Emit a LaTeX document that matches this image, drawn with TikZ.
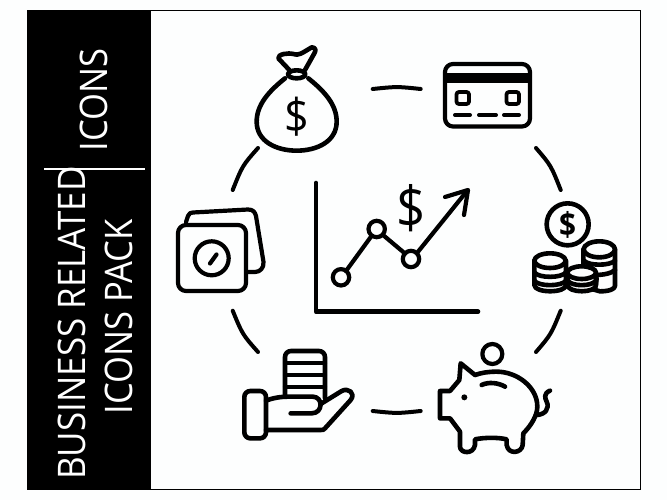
\documentclass[tikz,border=0pt]{standalone}
\usepackage{fontspec}
\setmainfont{Open Sans}
\definecolor{paper}{HTML}{FDFEFE}
\tikzset{
  ink/.style={draw=black,line width=#1,line cap=round,line join=round},
  ink/.default=4.6pt,
  arcdash/.style={draw=black,line width=4pt,line cap=round},
  sidetext/.style={text=white,rotate=90,inner sep=0pt,anchor=center,font=\fontsize{38}{38}\selectfont},
  sign/.style={text=black,inner sep=0pt,anchor=center},
  zoomed/.style={shift={(#1)},x=0.33333pt,y=-0.33333pt}
}
\begin{document}
\begin{tikzpicture}[x=1pt,y=-1pt]
\useasboundingbox (0,0) rectangle (667,500);
\fill[paper] (0,0) rectangle (667,500);
\draw[black,line width=1pt,fill=paper] (27,11) rectangle (640,489);
\fill[black] (27,11) rectangle (151,489);
% sidebar
\node[sidetext] (t1) at (94,100) {\scalebox{0.91}[1]{ICONS}};
\node[sidetext] (t2) at (71.5,323) {\scalebox{0.92}[1]{BUSINESS RELATED}};
\node[sidetext] (t3) at (118.5,317) {\scalebox{0.91}[1]{ICONS PACK}};
\fill[white] (44,168.2) rectangle (145,169.8);
% ring dashes
\draw[arcdash] (372.7,89) .. controls (397,86.5) .. (420.7,89);
\draw[arcdash] (536,148) .. controls (551,165.5) .. (560.7,190);
\draw[arcdash] (560.7,310.7) .. controls (551,334.5) .. (536,352);
\draw[arcdash] (420.7,411) .. controls (397,413.5) .. (372.7,411);
\draw[arcdash] (258,352) .. controls (242.5,334.5) .. (232.7,310.7);
\draw[arcdash] (232.7,190) .. controls (242.5,165.5) .. (258,148);
% money bag
\begin{scope}[zoomed={230,30}]
\draw[ink] (165,145) .. controls (115,185) and (80,225) .. (80,275)
   .. controls (80,335) and (140,362) .. (200,362)
   .. controls (260,362) and (320,335) .. (320,275)
   .. controls (320,225) and (285,185) .. (235,145);
\draw[ink] (200,133) ellipse[x radius=26,y radius=12];
\draw[ink] (178,120) -- (145,85) .. controls (143,72) and (175,68) .. (190,72)
   .. controls (205,78) and (215,70) .. (245,52) .. controls (258,52) and (258,62) .. (253,70) -- (225,120);
\end{scope}
\node[sign,font=\fontsize{48}{48}\selectfont] (d1) at (296.5,116.5) {\scalebox{0.9}[1]{\$}};
% credit card
\draw[ink=4.2pt,rounded corners=8pt] (445,64) rectangle (530,126.5);
\fill[black] (445,73) rectangle (530,83.5);
\draw[ink=3.8pt,rounded corners=2.5pt] (456.5,92) rectangle (469,104);
\draw[ink=3.8pt,rounded corners=2.5pt] (506.5,92) rectangle (519,104);
\draw[ink=4pt] (455,115) -- (470,115);
\draw[ink=4pt] (479,115) -- (496,115);
\draw[ink=4pt] (504,115) -- (519,115);
% chart
\draw[ink=4.6pt] (316,183) -- (316,311.7) -- (478,311.7);
\draw[ink=4.2pt] (341,277.3) circle[radius=8.2];
\draw[ink=4.2pt] (376.7,229) circle[radius=8.2];
\draw[ink=4.2pt] (411,259) circle[radius=8.2];
\draw[ink=4.2pt] (346,271) -- (371.5,236);
\draw[ink=4.2pt] (383,235) -- (405,253.5);
\draw[ink=4.2pt] (417,253) -- (467,191);
\draw[ink=4.2pt] (445,197) -- (468,190) -- (464,215);
\node[sign,font=\fontsize{58}{58}\selectfont] (d2) at (411.5,208.5) {\scalebox{0.88}[1]{\$}};
% sticky notes
\draw[ink=4.2pt] (186,222) -- (188,216) .. controls (189,213) and (191,212.5) .. (193,212.5)
   -- (248,209.5) .. controls (253,209.5) and (255,212) .. (256,216)
   -- (263.5,262) .. controls (264,268) and (260,272) .. (255,272) -- (247,272);
\draw[ink=4.2pt,rounded corners=8pt] (178,225) rectangle (246,291);
\draw[ink=4.2pt] (211.7,258.3) circle[radius=17];
\draw[ink=4.2pt] (210,263.5) -- (216.5,254.5);
% coins
\begin{scope}[zoomed={500,130}]
\draw[ink] (203,283) circle[radius=63];
\draw[ink,fill=paper] (250,358) -- (250,470) -- (300,484) .. controls (325,484) and (345,478) .. (345,468) -- (345,358);
\draw[ink,fill=paper] (298,358) ellipse[x radius=47,y radius=24];
\draw[ink] (252,392) .. controls (265,408) and (330,408) .. (345,392);
\draw[ink] (285,435) .. controls (310,435) and (335,430) .. (345,420);
\draw[ink] (285,478) -- (290,445);
\draw[ink,fill=paper] (103,392) -- (103,465) .. controls (103,490) and (198,490) .. (198,465) -- (198,392);
\draw[ink,fill=paper] (150,392) ellipse[x radius=47,y radius=22];
\draw[ink] (103,427) .. controls (115,445) and (185,445) .. (198,427);
\draw[ink,fill=paper] (203,428) -- (203,465) .. controls (203,490) and (288,490) .. (288,465) -- (288,428);
\draw[ink,fill=paper] (245,428) ellipse[x radius=43,y radius=19];
\draw[ink] (103,452) .. controls (115,470) and (185,470) .. (198,452);
\draw[ink] (203,452) .. controls (215,470) and (275,470) .. (288,452);
\end{scope}
\node[sign,font=\fontsize{33}{33}\selectfont\bfseries] (d3) at (567.7,224.5) {\scalebox{0.9}[1]{\$}};
% hand with coins
\begin{scope}[zoomed={230,330}]
\draw[ink,rounded corners=6pt] (165,200) -- (165,63) -- (285,63) -- (285,205);
\draw[ink=4.2pt] (165,100) -- (285,100);
\draw[ink=4.2pt] (165,135) -- (285,135);
\draw[ink=4.2pt] (165,170) -- (285,170);
\draw[ink,fill=paper,rounded corners=6pt] (43,183) rectangle (108,325);
\draw[ink,fill=paper] (108,212) .. controls (125,205) and (150,200) .. (175,200) -- (248,200)
   .. controls (280,200) and (280,250) .. (245,250) -- (182,250);
\draw[ink] (272,222) -- (335,183) .. controls (355,172) and (378,190) .. (362,210)
   -- (285,295) .. controls (282,300) and (278,300) .. (272,300) -- (108,300);
\end{scope}
% piggy
\begin{scope}[zoomed={230,330}]
\draw[ink=4.2pt] (787,72) circle[radius=30];
\draw[ink] (735,135) -- (692,100) -- (688,150) -- (660,183) -- (630,183) -- (630,265) -- (660,265)
   -- (690,305) -- (690,350) .. controls (690,370) and (730,375) .. (735,345) -- (735,328)
   .. controls (765,322) and (805,322) .. (830,328) -- (830,345)
   .. controls (835,375) and (875,370) .. (878,345) -- (880,310)
   .. controls (905,285) and (922,255) .. (922,230)
   .. controls (922,170) and (860,125) .. (800,125)
   .. controls (775,125) and (755,128) .. (735,135);
\draw[ink] (918,255) .. controls (945,255) and (960,235) .. (950,215)
   .. controls (945,205) and (940,190) .. (960,182);
\draw[ink] (755,165) .. controls (775,155) and (805,158) .. (825,170);
\fill[black] (703,202) circle[radius=9];
\end{scope}
\end{tikzpicture}
\end{document}
